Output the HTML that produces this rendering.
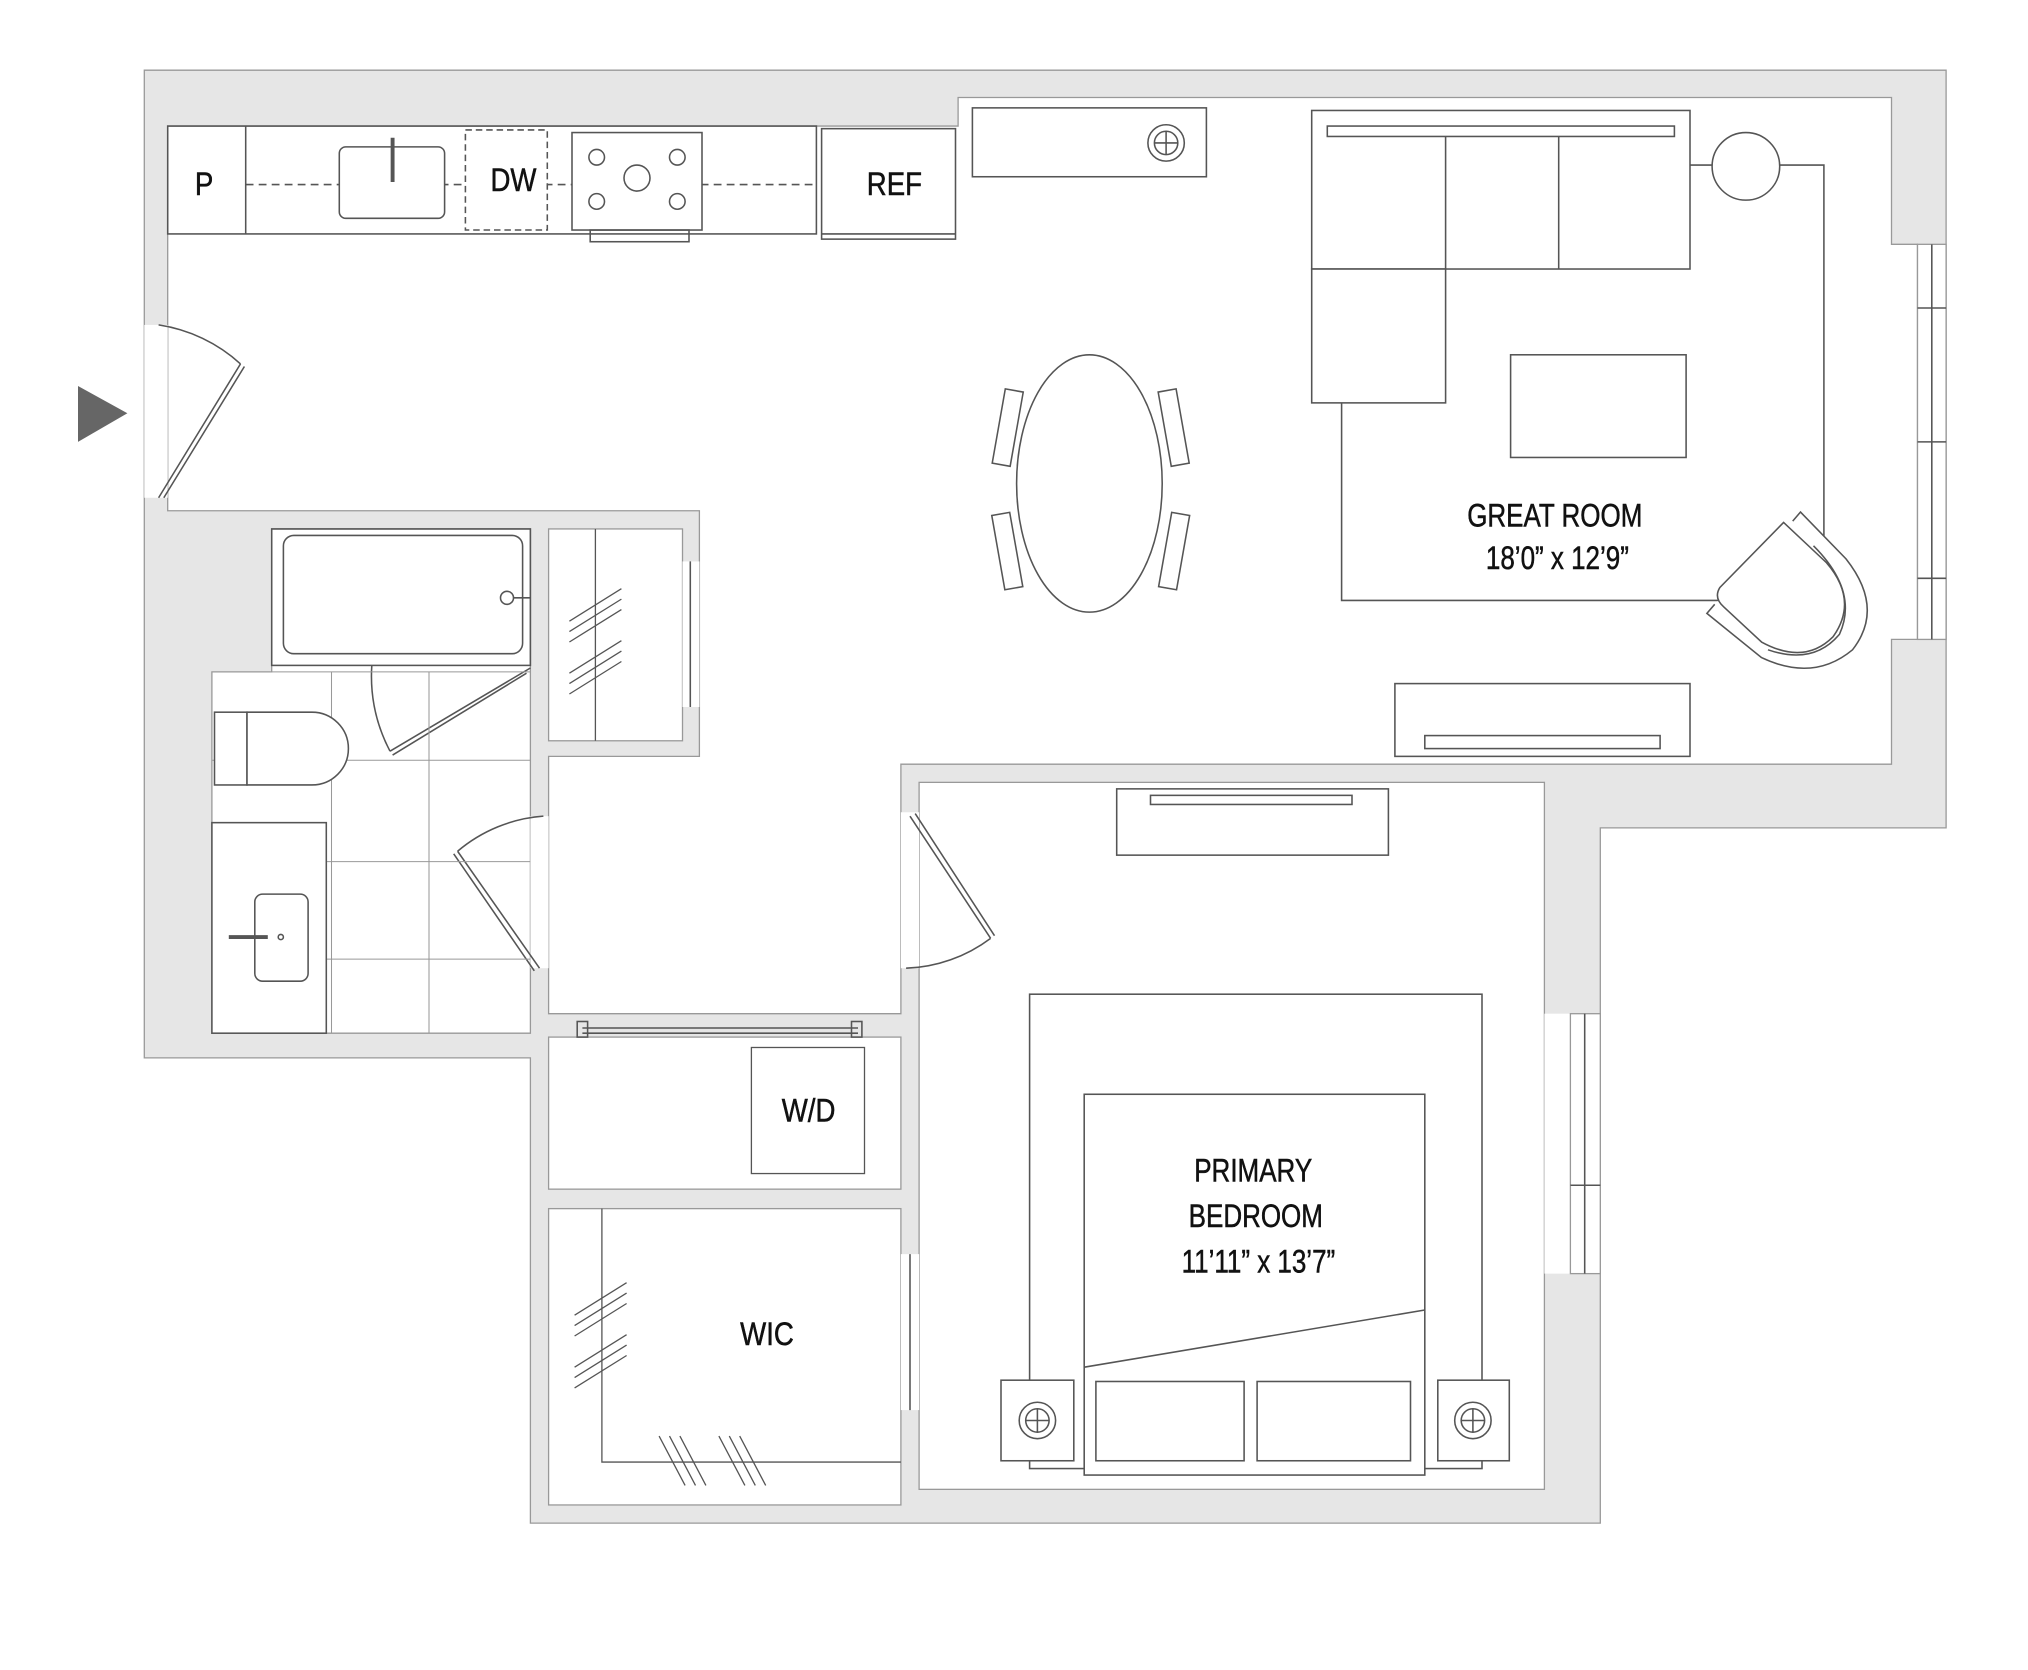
<!DOCTYPE html>
<html><head><meta charset="utf-8"><style>
html,body{margin:0;padding:0;background:#fff;}
svg{display:block;}
text{font-family:"Liberation Sans",sans-serif;fill:#111;}
</style></head><body>
<svg width="2028" height="1670" viewBox="0 0 1560 1285" preserveAspectRatio="none" xmlns="http://www.w3.org/2000/svg">
<rect width="1560" height="1285" fill="#fff"/>
<polygon points="111,54 1497,54 1497,637 1231,637 1231,1172 408,1172 408,814 111,814" fill="#e6e6e6" stroke="#999" stroke-width="1"/>
<g fill="#fff" stroke="#999" stroke-width="1">
<polygon points="129,97 737,97 737,75 1455,75 1455,188 1475,188 1475,492 1455,492 1455,588 693,588 693,780 422,780 422,582 538,582 538,393 129,393"/>
<polygon points="209,407 408,407 408,795 163,795 163,517 209,517"/>
<rect x="422" y="407" width="103" height="163"/>
<rect x="422" y="798" width="271" height="117"/>
<rect x="422" y="930" width="271" height="228"/>
<rect x="707" y="602" width="481" height="544"/>
<rect x="1188" y="780" width="20" height="200" stroke="none"/>
<rect x="1208" y="780" width="23" height="200"/>
<rect x="1475" y="188" width="22" height="304"/>
<rect x="111" y="250" width="18" height="133" stroke="none"/>
<rect x="693" y="625" width="14" height="120" stroke="none"/>
<rect x="408" y="628" width="14" height="117" stroke="none"/>
<rect x="693" y="965" width="14" height="120" stroke="none"/>
<rect x="525" y="432" width="13" height="112" stroke="none"/>
</g>
<g fill="none" stroke="#555" stroke-width="1.2">
<line x1="1486" y1="188" x2="1486" y2="492"/><line x1="1475" y1="237" x2="1497" y2="237"/><line x1="1475" y1="340" x2="1497" y2="340"/><line x1="1475" y1="445" x2="1497" y2="445"/>
<line x1="1219" y1="780" x2="1219" y2="980"/><line x1="1208" y1="912" x2="1231" y2="912"/>
<line x1="700" y1="965" x2="700" y2="1085"/>
<line x1="531" y1="432" x2="531" y2="544"/>
<line x1="122" y1="383" x2="185" y2="280"/><line x1="126" y1="383" x2="188" y2="282"/>
<path d="M185,280 A120,120 0 0 0 122,250"/>
<line x1="700" y1="628" x2="762" y2="722"/><line x1="704" y1="626" x2="765" y2="720"/>
<path d="M762,722 A115,115 0 0 1 697,745"/>
<line x1="415" y1="745" x2="352" y2="655"/><line x1="411" y1="747" x2="349" y2="657"/>
<path d="M352,655 A115,115 0 0 1 418,628"/>
<line x1="408" y1="514" x2="300" y2="578"/><line x1="405" y1="518" x2="302" y2="581"/>
<path d="M300,578 A125,125 0 0 1 286,512"/>
<line x1="448" y1="791" x2="660" y2="791"/><line x1="448" y1="795" x2="660" y2="795"/>
<rect x="444" y="786" width="8" height="12"/><rect x="655" y="786" width="8" height="12"/>
<rect x="129" y="97" width="499" height="83"/>
<line x1="189" y1="97" x2="189" y2="180"/>
<line x1="189" y1="142" x2="628" y2="142" stroke-dasharray="6,4"/>
<rect x="261" y="113" width="81" height="55" rx="5" fill="#fff"/>
<line x1="302" y1="106" x2="302" y2="140" stroke-width="3"/>
<rect x="358" y="100" width="63" height="77" stroke-dasharray="5,3" fill="#fff"/>
<rect x="440" y="102" width="100" height="75" fill="#fff"/>
<circle cx="459" cy="121" r="6"/><circle cx="521" cy="121" r="6"/><circle cx="459" cy="155" r="6"/><circle cx="521" cy="155" r="6"/><circle cx="490" cy="137" r="10"/>
<rect x="454" y="177" width="76" height="9"/>
<rect x="632" y="99" width="103" height="85"/><line x1="632" y1="180" x2="735" y2="180"/>
<rect x="748" y="83" width="180" height="53"/><circle cx="897" cy="110" r="14"/><circle cx="897" cy="110" r="9"/><line x1="888" y1="110" x2="906" y2="110"/><line x1="897" y1="101" x2="897" y2="119"/>
<polyline points="1300,127 1403,127 1403,440"/>
<polyline points="1340,462 1032,462 1032,310"/>
<rect x="1009" y="85" width="291" height="122" fill="#fff"/>
<rect x="1021" y="97" width="267" height="8"/>
<line x1="1112" y1="105" x2="1112" y2="207"/><line x1="1199" y1="105" x2="1199" y2="207"/>
<rect x="1009" y="207" width="103" height="103" fill="#fff"/>
<circle cx="1343" cy="128" r="26" fill="#fff"/>
<rect x="1162" y="273" width="135" height="79"/>
<path d="M1379,401 L1385,394 L1420,430 Q1450,468 1425,500 Q1395,525 1355,506 L1313,472 L1319,465" fill="#fff"/>
<path d="M1372,402 L1323,452 Q1318,460 1326,467 L1355,494 Q1388,512 1410,490 Q1430,462 1405,433 Z" fill="#fff"/>
<path d="M1395,420 Q1430,455 1415,488 Q1395,512 1360,500"/>
<ellipse cx="838" cy="372" rx="56" ry="99"/>
<g transform="rotate(10 775 330)"><rect x="768" y="300" width="14" height="58"/></g>
<g transform="rotate(-10 775 425)"><rect x="768" y="395" width="14" height="58"/></g>
<g transform="rotate(-10 903 330)"><rect x="896" y="300" width="14" height="58"/></g>
<g transform="rotate(10 903 425)"><rect x="896" y="395" width="14" height="58"/></g>
<rect x="1073" y="526" width="227" height="56"/><rect x="1096" y="566" width="181" height="10"/>
<rect x="209" y="407" width="199" height="105"/>
<rect x="218" y="412" width="184" height="91" rx="8"/>
<circle cx="390" cy="460" r="5"/><line x1="395" y1="460" x2="408" y2="460"/>
<g stroke="#999" stroke-width="0.8"><line x1="255" y1="517" x2="255" y2="795"/><line x1="330" y1="517" x2="330" y2="795"/><line x1="163" y1="585" x2="408" y2="585"/><line x1="163" y1="663" x2="408" y2="663"/><line x1="163" y1="738" x2="408" y2="738"/><line x1="209" y1="517" x2="408" y2="517"/></g>
<rect x="165" y="548" width="25" height="56" fill="#fff"/>
<path d="M190,548 h50 a28,28 0 0 1 0,56 h-50 z" fill="#fff"/>
<rect x="163" y="633" width="88" height="162" fill="#fff"/>
<rect x="196" y="688" width="41" height="67" rx="6"/>
<line x1="176" y1="721" x2="206" y2="721" stroke-width="3"/><circle cx="216" cy="721" r="2"/>
<g stroke-width="1"><line x1="438" y1="478" x2="478" y2="453"/><line x1="438" y1="486" x2="478" y2="461"/><line x1="438" y1="494" x2="478" y2="469"/>
<line x1="438" y1="518" x2="478" y2="493"/><line x1="438" y1="526" x2="478" y2="501"/><line x1="438" y1="534" x2="478" y2="509"/>
<line x1="458" y1="407" x2="458" y2="570"/>
<rect x="578" y="806" width="87" height="97"/>
<polyline points="463,930 463,1125 693,1125"/>
<line x1="442" y1="1012" x2="482" y2="987"/><line x1="442" y1="1020" x2="482" y2="995"/><line x1="442" y1="1028" x2="482" y2="1003"/>
<line x1="442" y1="1052" x2="482" y2="1027"/><line x1="442" y1="1060" x2="482" y2="1035"/><line x1="442" y1="1068" x2="482" y2="1043"/>
<line x1="507" y1="1105" x2="527" y2="1143"/><line x1="515" y1="1105" x2="535" y2="1143"/><line x1="523" y1="1105" x2="543" y2="1143"/>
<line x1="553" y1="1105" x2="573" y2="1143"/><line x1="561" y1="1105" x2="581" y2="1143"/><line x1="569" y1="1105" x2="589" y2="1143"/></g>
<rect x="859" y="607" width="209" height="51"/><rect x="885" y="612" width="155" height="7"/>
<rect x="792" y="765" width="348" height="365"/>
<rect x="834" y="842" width="262" height="293" fill="#fff"/>
<line x1="834" y1="1052" x2="1096" y2="1008"/>
<rect x="843" y="1063" width="114" height="61"/><rect x="967" y="1063" width="118" height="61"/>
<rect x="770" y="1062" width="56" height="62" fill="#fff"/><circle cx="798" cy="1093" r="14"/><circle cx="798" cy="1093" r="9"/><line x1="789" y1="1093" x2="807" y2="1093"/><line x1="798" y1="1084" x2="798" y2="1102"/>
<rect x="1106" y="1062" width="55" height="62" fill="#fff"/><circle cx="1133" cy="1093" r="14"/><circle cx="1133" cy="1093" r="9"/><line x1="1124" y1="1093" x2="1142" y2="1093"/><line x1="1133" y1="1084" x2="1133" y2="1102"/>
</g>
<polygon points="60,297 98,318 60,340" fill="#666"/>
<g font-size="25" text-anchor="middle" stroke="#111" stroke-width="0.4">
<text x="157" y="150" transform="translate(157 0) scale(0.85 1) translate(-157 0)">P</text>
<text x="395" y="147" transform="translate(395 0) scale(0.85 1) translate(-395 0)">DW</text>
<text x="688" y="150" transform="translate(688 0) scale(0.85 1) translate(-688 0)">REF</text>
<text x="1196" y="405" transform="translate(1196 0) scale(0.8 1) translate(-1196 0)">GREAT ROOM</text>
<text x="1198" y="438" transform="translate(1198 0) scale(0.8 1) translate(-1198 0)">18’0” x 12’9”</text>
<text x="622" y="863" transform="translate(622 0) scale(0.85 1) translate(-622 0)">W/D</text>
<text x="964" y="909" transform="translate(964 0) scale(0.8 1) translate(-964 0)">PRIMARY</text>
<text x="966" y="944" transform="translate(966 0) scale(0.8 1) translate(-966 0)">BEDROOM</text>
<text x="968" y="979" transform="translate(968 0) scale(0.8 1) translate(-968 0)">11’11” x 13’7”</text>
<text x="590" y="1035" transform="translate(590 0) scale(0.85 1) translate(-590 0)">WIC</text>
</g>
</svg>
</body></html>
